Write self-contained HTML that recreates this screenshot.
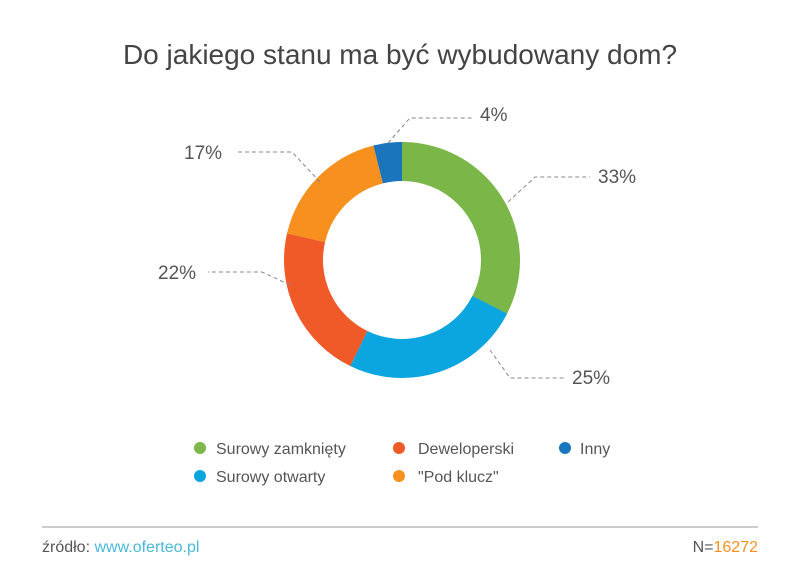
<!DOCTYPE html>
<html><head><meta charset="utf-8"><style>
body{margin:0;background:#fff;}
svg{display:block;font-family:"Liberation Sans",sans-serif;}
</style></head><body>
<svg width="800" height="566" viewBox="0 0 800 566">
<rect width="800" height="566" fill="#fff"/>
<text x="400" y="64" text-anchor="middle" font-size="28" fill="#444">Do jakiego stanu ma być wybudowany dom?</text>
<g fill="none" stroke-width="39">
<circle cx="402" cy="260" r="98.5" stroke="#7ab648" stroke-dasharray="201.2 1000" transform="rotate(-90 402 260)"/>
<circle cx="402" cy="260" r="98.5" stroke="#0ba5e0" stroke-dasharray="153.0 1000" transform="rotate(27 402 260)"/>
<circle cx="402" cy="260" r="98.5" stroke="#ef5a28" stroke-dasharray="132.4 1000" transform="rotate(116 402 260)"/>
<circle cx="402" cy="260" r="98.5" stroke="#f7901e" stroke-dasharray="108.3 1000" transform="rotate(193 402 260)"/>
<circle cx="402" cy="260" r="98.5" stroke="#1b75bc" stroke-dasharray="24.1 1000" transform="rotate(256 402 260)"/>
</g>
<g fill="none" stroke="#888" stroke-width="1" stroke-dasharray="4 3">
<polyline points="508,202 535,177 590,177"/>
<polyline points="490,350 510,378 565,378"/>
<polyline points="290,285 262,272 208,272"/>
<polyline points="320,182 292,152 236,152"/>
<polyline points="388,143 410,118 472,118"/>
</g>
<g font-size="19" fill="#555">
<text x="598" y="183">33%</text>
<text x="572" y="384">25%</text>
<text x="158" y="279">22%</text>
<text x="184" y="159">17%</text>
<text x="480" y="121">4%</text>
</g>
<g font-size="16" fill="#555">
<circle cx="200" cy="448" r="6" fill="#7ab648"/><text x="216" y="454">Surowy zamknięty</text>
<circle cx="399" cy="448" r="6" fill="#ef5a28"/><text x="418" y="454">Deweloperski</text>
<circle cx="565" cy="448" r="6" fill="#1b75bc"/><text x="580" y="454">Inny</text>
<circle cx="200" cy="476" r="6" fill="#0ba5e0"/><text x="216" y="482">Surowy otwarty</text>
<circle cx="399" cy="476" r="6" fill="#f7901e"/><text x="418" y="482">"Pod klucz"</text>
</g>
<line x1="42" y1="527" x2="758" y2="527" stroke="#999" stroke-width="1"/>
<text x="42" y="552" font-size="16" fill="#555">źródło: <tspan fill="#4ab8d8">www.oferteo.pl</tspan></text>
<text x="758" y="552" font-size="16" fill="#555" text-anchor="end">N=<tspan fill="#f7901e">16272</tspan></text>
</svg>
</body></html>
